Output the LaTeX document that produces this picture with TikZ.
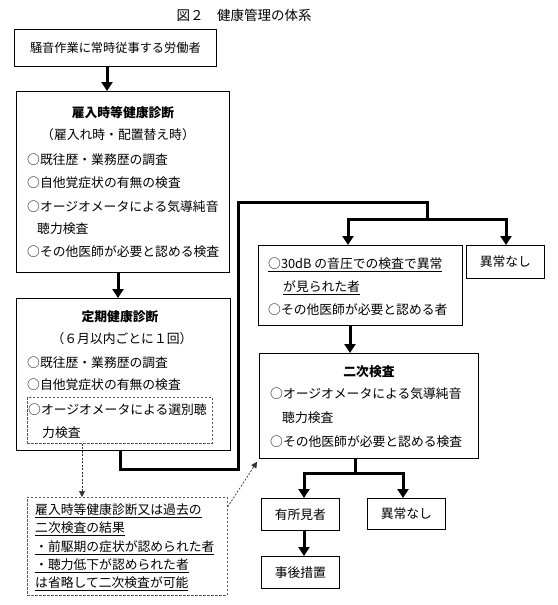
\documentclass[tikz,border=0pt]{standalone}
\usepackage{fontspec}
\setmainfont{Noto Sans CJK JP}
\usetikzlibrary{arrows.meta}
\begin{document}
\begin{tikzpicture}[x=1pt,y=-1pt,
  box/.style={draw, line width=0.8pt, inner sep=0, anchor=north west},
  txt/.style={inner sep=0, anchor=west, font=\fontsize{12.8}{15}\selectfont},
  ctxt/.style={inner sep=0, font=\fontsize{12.8}{15}\selectfont},
  htxt/.style={inner sep=0, font=\fontsize{12.8}{15}\selectfont\bfseries},
  thickarrow/.style={line width=3pt, -{Triangle[width=11pt,length=9pt]}},
  thickline/.style={line width=3pt, line join=miter},
  dashedbox/.style={draw=black!65, line width=0.6pt, dash pattern=on 2.5pt off 1.5pt, inner sep=0, anchor=north west},
  dasharrow/.style={draw=black!80, line width=0.7pt, dash pattern=on 2pt off 1.5pt, -{Triangle[width=6pt,length=6pt]}}]
\useasboundingbox (0,0) rectangle (557,605);

% title
\node[inner sep=0, font=\fontsize{13.5}{16}\selectfont] (title) at (244,15) {図２　健康管理の体系};

% box 1
\node[box, minimum width=202pt, minimum height=37pt] (b1) at (14,29) {};
\node[inner sep=0, font=\fontsize{12.2}{15}\selectfont] (t1) at (b1.center) {騒音作業に常時従事する労働者};

% box 2
\node[box, minimum width=213pt, minimum height=181pt] (b2) at (16,91) {};
\node[htxt] (t2a) at (123,113) {雇入時等健康診断};
\node[ctxt] (t2b) at (118,135) {（雇入れ時・配置替え時）};
\node[txt] (t2c) at (27,160) {○既往歴・業務歴の調査};
\node[txt] (t2d) at (27,183) {○自他覚症状の有無の検査};
\node[txt] (t2e) at (27,207) {○オージオメータによる気導純音};
\node[txt] (t2f) at (37,229) {聴力検査};
\node[txt] (t2g) at (27,252) {○その他医師が必要と認める検査};

% box 3
\node[box, minimum width=214pt, minimum height=152pt] (b3) at (16,298) {};
\node[htxt] (t3a) at (120,317) {定期健康診断};
\node[ctxt] (t3b) at (122,339) {（６月以内ごとに１回）};
\node[txt] (t3c) at (27,363) {○既往歴・業務歴の調査};
\node[txt] (t3d) at (27,385) {○自他覚症状の有無の検査};
\node[dashedbox, minimum width=185pt, minimum height=46pt] (db) at (27,397) {};
\node[txt] (t3e) at (28,410) {○オージオメータによる選別聴};
\node[txt] (t3f) at (42,433) {力検査};

% box 4
\node[box, minimum width=204pt, minimum height=80pt] (b4) at (258,245) {};
\node[txt] (t4a) at (268,265) {\underline{○30dB の音圧での検査で異常}};
\node[txt] (t4b) at (283,288) {\underline{が見られた者}};
\node[txt] (t4c) at (268,310) {○その他医師が必要と認める者};

% no abnormality 1
\node[box, minimum width=78pt, minimum height=33pt] (n1) at (466,245) {};
\node[ctxt] (tn1) at (n1.center) {異常なし};

% box 5
\node[box, minimum width=219pt, minimum height=105pt] (b5) at (259,353) {};
\node[htxt] (t5a) at (369,372) {二次検査};
\node[txt] (t5b) at (270,394) {○オージオメータによる気導純音};
\node[txt] (t5c) at (282,418) {聴力検査};
\node[txt] (t5d) at (270,442) {○その他医師が必要と認める検査};

% result boxes
\node[box, minimum width=78pt, minimum height=32pt] (n2) at (261,498) {};
\node[ctxt] (tn2) at (n2.center) {有所見者};
\node[box, minimum width=78pt, minimum height=31pt] (n3) at (367,498) {};
\node[ctxt] (tn3) at (n3.center) {異常なし};
\node[box, minimum width=78pt, minimum height=32pt] (n4) at (261,556) {};
\node[ctxt] (tn4) at (n4.center) {事後措置};

% note box
\node[dashedbox, minimum width=200pt, minimum height=98pt] (note) at (27,497) {};
\node[txt] (m1) at (35,511) {\underline{雇入時等健康診断又は過去の}};
\node[txt] (m2) at (35,529) {\underline{二次検査の結果}};
\node[txt] (m3) at (35,548) {\underline{・前駆期の症状が認められた者}};
\node[txt] (m4) at (35,566) {\underline{・聴力低下が認められた者}};
\node[txt] (m5) at (35,584) {\underline{は省略して二次検査が可能}};

% connectors
\draw[thickarrow] (b1.south -| 107,0) -- (b2.north -| 107,0);
\draw[thickarrow] (b2.south -| 118,0) -- (b3.north -| 118,0);

\coordinate (j1) at (427,219);
\coordinate (s1l) at (348,219);
\coordinate (s1r) at (506,219);
\draw[thickline] (b3.south -| 120,0) |- (238,469) |- (427,202) -- (j1);
\draw[thickline, line cap=rect] (s1l) -- (s1r);
\draw[thickarrow] (s1l) -- (s1l |- b4.north);
\draw[thickarrow] (s1r) -- (s1r |- n1.north);

\draw[thickarrow] (b4.south -| 350,0) -- (b5.north -| 350,0);

\coordinate (j2) at (355,473);
\coordinate (s2l) at (304,473);
\coordinate (s2r) at (403,473);
\draw[thickline] (b5.south -| j2) -- (j2);
\draw[thickline, line cap=rect] (s2l) -- (s2r);
\draw[thickarrow] (s2l) -- (s2l |- n2.north);
\draw[thickarrow] (s2r) -- (s2r |- n3.north);
\draw[thickarrow] (n2.south -| 304,0) -- (n4.north -| 304,0);

\draw[dasharrow] (db.south -| 82,0) -- (note.north -| 82,0);
\draw[dasharrow] ([yshift=-10pt]note.north east) -- ([shift={(-2pt,-3pt)}]b5.south west);
\end{tikzpicture}
\end{document}
